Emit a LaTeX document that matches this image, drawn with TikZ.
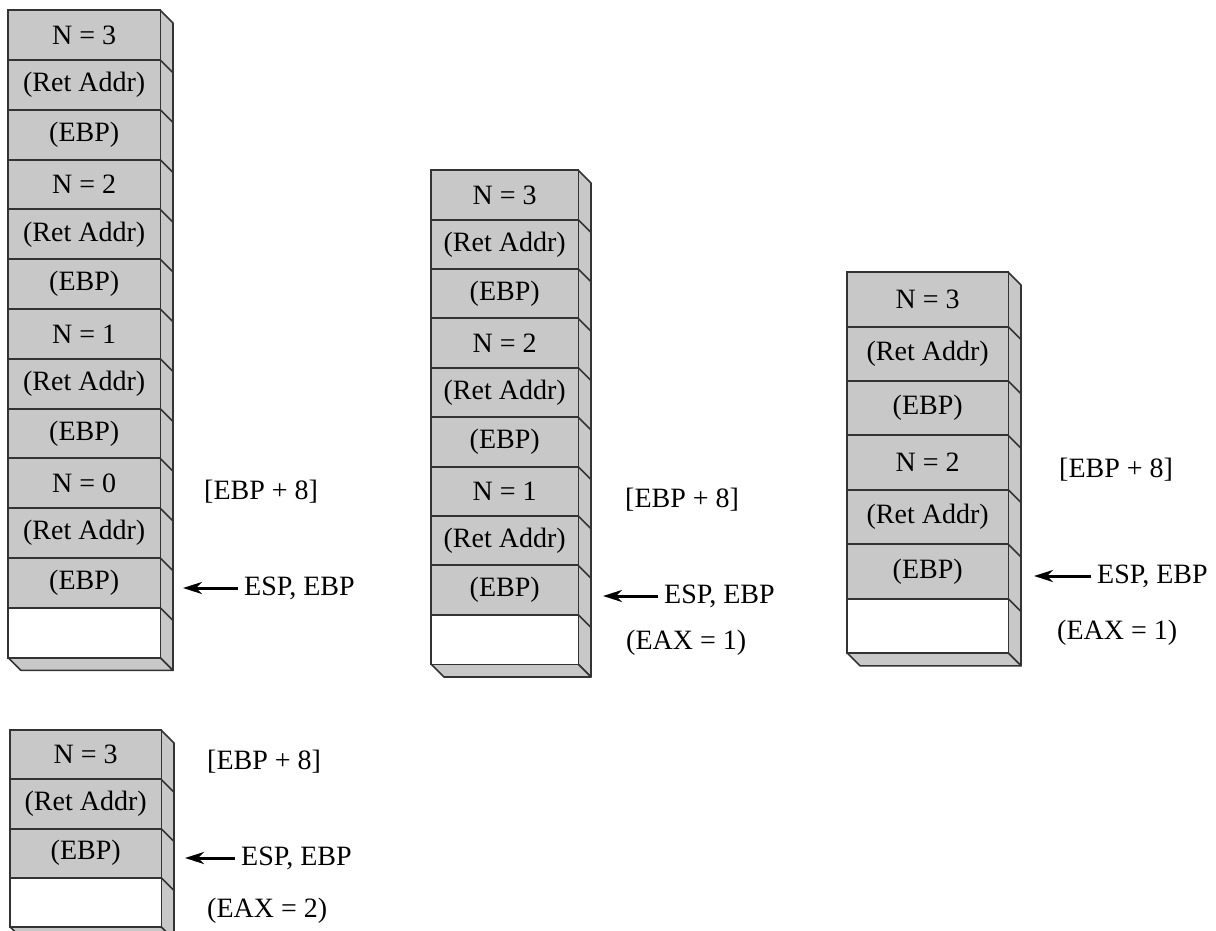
\documentclass[tikz,border=0pt]{standalone}
\usepackage{fontspec}
\setmainfont{Liberation Serif}
\usetikzlibrary{arrows.meta}
\definecolor{cellgray}{HTML}{C8C8C8}
\definecolor{edgec}{HTML}{333333}
\tikzset{
  cellbox/.style={fill=cellgray, inner sep=0pt,
    font=\fontsize{28}{31}\selectfont},
  emptybox/.style={cellbox, fill=white},
  rim/.style={draw=edgec, line width=1.6pt},
  face/.style={draw=edgec, line width=1.6pt, fill=cellgray, line join=round},
  lab/.style={inner sep=1pt, font=\fontsize{28}{31}\selectfont, anchor=west},
  ptr/.style={line width=3pt, -{Stealth[length=19pt,width=12pt,inset=6pt]}}
}
% #1 name, #2 xL, #3 xR, #4 yTop, #5 cell height, #6 gray count, #7 labels
\newcommand\drawstack[7]{%
  \pgfmathsetmacro\sw{#3-#2}%
  \pgfmathsetmacro\yb{#4+(#6+1)*#5}%
  \path[face] (#3,#4) -- ++(13,13) -- (#3+13,\yb+13) -- (#3,\yb) -- cycle;
  \path[face] (#2,\yb) -- ++(13,13) -- (#3+13,\yb+13) -- (#3,\yb) -- cycle;
  \foreach \lab [count=\i] in {#7}{%
    \node[cellbox, minimum width=\sw pt, minimum height=#5 pt, anchor=north west]
      (#1-\i) at (#2,{#4+(\i-1)*#5}) {\lab};
  }
  \node[emptybox, minimum width=\sw pt, minimum height=#5 pt, anchor=north west]
    (#1-w) at (#2,{#4+#6*#5}) {};
  \foreach \lab [count=\i] in {#7}{%
    \draw[rim] (#1-\i.north west) rectangle (#1-\i.south east);
    \draw[rim] (#1-\i.south east) -- ++(13,13);
  }
  \draw[rim] (#1-w.north west) rectangle (#1-w.south east);
}
\begin{document}
\begin{tikzpicture}[x=1pt,y=-1pt]
\useasboundingbox[fill=white] (0,0) rectangle (1216,931);

\drawstack{sa}{8}{160}{10}{49.8}{12}{{N = 3},{(Ret Addr)},{(EBP)},{N = 2},{(Ret Addr)},{(EBP)},{N = 1},{(Ret Addr)},{(EBP)},{N = 0},{(Ret Addr)},{(EBP)}}
\drawstack{sb}{431}{578}{170}{49.4}{9}{{N = 3},{(Ret Addr)},{(EBP)},{N = 2},{(Ret Addr)},{(EBP)},{N = 1},{(Ret Addr)},{(EBP)}}
\drawstack{sc}{847}{1008}{272}{54.4}{6}{{N = 3},{(Ret Addr)},{(EBP)},{N = 2},{(Ret Addr)},{(EBP)}}
\drawstack{sd}{10}{161}{730}{49.2}{3}{{N = 3},{(Ret Addr)},{(EBP)}}

% stack 1 labels
\node[lab] (sa-ebp8) at (203,492) {[EBP + 8]};
\node[lab] (sa-esp) at (243,588) {ESP, EBP};
\coordinate (sa-tip) at (183,588);
\draw[ptr] ([xshift=-5pt]sa-esp.west) -- (sa-tip);

% stack 2 labels
\node[lab] (sb-ebp8) at (624,500) {[EBP + 8]};
\node[lab] (sb-esp) at (663,596) {ESP, EBP};
\coordinate (sb-tip) at (603,596);
\draw[ptr] ([xshift=-5pt]sb-esp.west) -- (sb-tip);
\node[lab] (sb-eax) at (625,643) {(EAX = 1)};

% stack 3 labels
\node[lab] (sc-ebp8) at (1058,470) {[EBP + 8]};
\node[lab] (sc-esp) at (1096,576) {ESP, EBP};
\coordinate (sc-tip) at (1034,576);
\draw[ptr] ([xshift=-5pt]sc-esp.west) -- (sc-tip);
\node[lab] (sc-eax) at (1056,633) {(EAX = 1)};

% stack 4 labels
\node[lab] (sd-ebp8) at (206,762) {[EBP + 8]};
\node[lab] (sd-esp) at (240,858) {ESP, EBP};
\coordinate (sd-tip) at (185,858);
\draw[ptr] ([xshift=-5pt]sd-esp.west) -- (sd-tip);
\node[lab] (sd-eax) at (206,911) {(EAX = 2)};
\end{tikzpicture}
\end{document}
